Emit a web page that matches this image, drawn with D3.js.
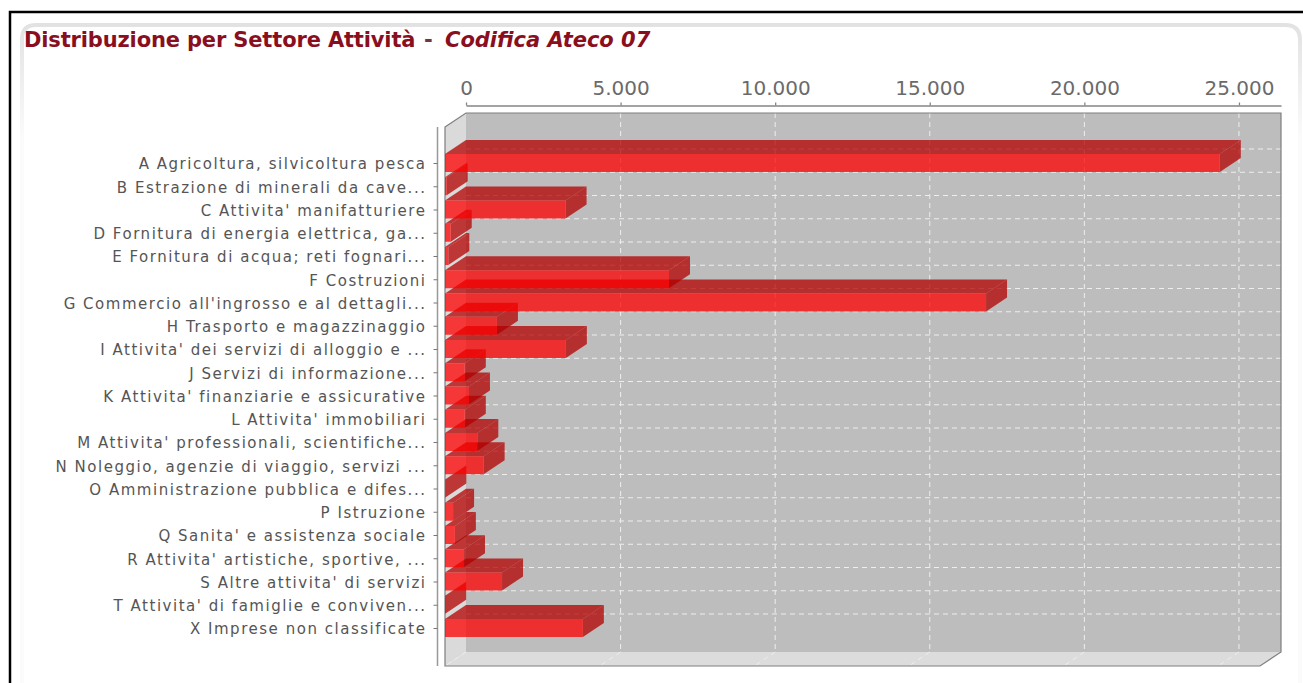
<!DOCTYPE html>
<html>
<head>
<meta charset="utf-8">
<script src="https://cdn.jsdelivr.net/npm/d3@7"></script>
<style>
    html, body { margin: 0; padding: 0; background: #fff; overflow: hidden; }
    svg { display: block; }
    .labels text { font-family: "DejaVu Sans", sans-serif; font-size: 15px; fill: #555; letter-spacing: 1.53px; }
    .values text { font-family: "DejaVu Sans", sans-serif; font-size: 20px; fill: #6a6a6a; }
</style>
</head>
<body>
<svg id="chart" width="1303" height="683"></svg>
<script>
const categories = [
    'A Agricoltura, silvicoltura pesca',
    'B Estrazione di minerali da cave...',
    "C Attivita' manifatturiere",
    'D Fornitura di energia elettrica, ga...',
    'E Fornitura di acqua; reti fognari...',
    'F Costruzioni',
    "G Commercio all'ingrosso e al dettagli...",
    'H Trasporto e magazzinaggio',
    "I Attivita' dei servizi di alloggio e ...",
    'J Servizi di informazione...',
    "K Attivita' finanziarie e assicurative",
    "L Attivita' immobiliari",
    "M Attivita' professionali, scientifiche...",
    'N Noleggio, agenzie di viaggio, servizi ...',
    'O Amministrazione pubblica e difes...',
    'P Istruzione',
    "Q Sanita' e assistenza sociale",
    "R Attivita' artistiche, sportive, ...",
    "S Altre attivita' di servizi",
    "T Attivita' di famiglie e conviven...",
    'X Imprese non classificate'
];
const imprese = [25060, 55, 3900, 185, 107, 7245, 17500, 1680, 3910, 640, 775, 640, 1045, 1250, 10, 260, 320, 615, 1845, 5, 4460];
const valueTicks = [0, 5000, 10000, 15000, 20000, 25000];
const axisMax = 26360;

const wall = { left: 466, right: 1281, top: 113, bottom: 652 };
const depth = { x: 21, y: 14 };
const barHeight = 18;

const svg = d3.select('#chart');
const it = d3.formatLocale({ decimal: ',', thousands: '.', grouping: [3], currency: ['€', ''] });

const x = d3.scaleLinear().domain([0, axisMax]).range([wall.left, wall.right]);
const y = d3.scalePoint().domain(categories).range([163, 628]);

const path = pts => d3.line()(pts) + 'Z';

// page frame and panel
svg.append('path')
    .attr('d', 'M1303,12H10V683')
    .attr('fill', 'none')
    .attr('stroke', '#000')
    .attr('stroke-width', 2.5);

const fade = svg.append('defs').append('linearGradient')
    .attr('id', 'panelFade')
    .attr('gradientUnits', 'userSpaceOnUse')
    .attr('x1', 0).attr('y1', 25).attr('x2', 0).attr('y2', 140);
fade.append('stop').attr('offset', '0').attr('stop-color', '#e2e2e2');
fade.append('stop').attr('offset', '1').attr('stop-color', '#fbfbfb');

svg.append('path')
    .attr('d', 'M22,683V39Q22,25 36,25H1285Q1300,25 1300,40V683')
    .attr('fill', 'none')
    .attr('stroke', 'url(#panelFade)')
    .attr('stroke-width', 4);

// title
const title = svg.append('text')
    .attr('y', 47)
    .attr('font-family', 'DejaVu Sans, sans-serif')
    .attr('font-size', 21)
    .attr('font-weight', 'bold')
    .attr('fill', '#8a0f1e');
title.append('tspan').attr('x', 24).attr('letter-spacing', -0.15).text('Distribuzione per Settore Attività');
title.append('tspan').attr('x', 424).attr('fill', '#6b3a40').text('-');
title.append('tspan').attr('x', 445).attr('font-style', 'italic').text('Codifica Ateco 07');

// 3d box
svg.append('path')
    .attr('d', path([[wall.left, wall.top], [wall.right, wall.top], [wall.right, wall.bottom], [wall.left, wall.bottom]]))
    .attr('fill', '#bdbdbd');
svg.append('path')
    .attr('d', path([[wall.left - depth.x, wall.top + depth.y], [wall.left, wall.top], [wall.left, wall.bottom], [wall.left - depth.x, wall.bottom + depth.y]]))
    .attr('fill', '#dadada');
svg.append('path')
    .attr('d', path([[wall.left - depth.x, wall.bottom + depth.y], [wall.left, wall.bottom], [wall.right, wall.bottom], [wall.right - depth.x, wall.bottom + depth.y]]))
    .attr('fill', '#dcdcdc');

// grid
const grid = svg.append('g')
    .attr('fill', 'none')
    .attr('stroke', '#eee')
    .attr('stroke-width', 1)
    .attr('stroke-dasharray', '5,4');

grid.selectAll('line.v')
    .data(valueTicks.slice(1))
    .join('line')
    .attr('class', 'v')
    .attr('x1', d => x(d)).attr('x2', d => x(d))
    .attr('y1', wall.top).attr('y2', wall.bottom);

grid.selectAll('line.h')
    .data(categories)
    .join('line')
    .attr('class', 'h')
    .attr('x1', wall.left).attr('x2', wall.right)
    .attr('y1', d => y(d) - depth.y).attr('y2', d => y(d) - depth.y);

grid.selectAll('line.floor')
    .data(valueTicks)
    .join('line')
    .attr('class', 'floor')
    .attr('x1', d => x(d)).attr('y1', wall.bottom)
    .attr('x2', d => x(d) - depth.x).attr('y2', wall.bottom + depth.y);

// box outline
svg.append('path')
    .attr('d', `M${wall.left - depth.x},${wall.top + depth.y}L${wall.left},${wall.top}H${wall.right}V${wall.bottom}L${wall.right - depth.x},${wall.bottom + depth.y}H${wall.left - depth.x}Z`)
    .attr('fill', 'none')
    .attr('stroke', '#7f7f7f')
    .attr('stroke-width', 1.2);

// bars, bottom one first so upper fronts sit over lower tops
const rows = categories.map((name, i) => ({ name, value: imprese[i] })).reverse();

const bars = svg.append('g')
    .selectAll('g')
    .data(rows)
    .join('g')
    .attr('fill-opacity', 0.75);

function barCorners(d) {
    const x0 = x(0) - depth.x;
    const x1 = x(d.value) - depth.x;
    const y0 = y(d.name) - barHeight / 2;
    const y1 = y(d.name) + barHeight / 2;
    return { x0, x1, y0, y1 };
}

bars.append('path')
    .attr('fill', '#b30000')
    .attr('d', d => {
        const { x0, x1, y0 } = barCorners(d);
        return path([[x0, y0], [x0 + depth.x, y0 - depth.y], [x1 + depth.x, y0 - depth.y], [x1, y0]]);
    });

bars.append('path')
    .attr('fill', '#b30000')
    .attr('d', d => {
        const { x1, y0, y1 } = barCorners(d);
        return path([[x1, y0], [x1 + depth.x, y0 - depth.y], [x1 + depth.x, y1 - depth.y], [x1, y1]]);
    });

bars.append('path')
    .attr('fill', '#ff0000')
    .attr('d', d => {
        const { x0, x1, y0, y1 } = barCorners(d);
        return path([[x0, y0], [x1, y0], [x1, y1], [x0, y1]]);
    });

// axes
const topAxis = d3.axisTop(x)
    .tickValues(valueTicks)
    .tickFormat(it.format(',d'))
    .tickSize(3)
    .tickSizeOuter(0)
    .tickPadding(8);

const topG = svg.append('g')
    .attr('class', 'values')
    .attr('transform', 'translate(0,105.5)')
    .call(topAxis);
topG.selectAll('path, line').attr('stroke', '#858585').attr('stroke-width', 1.3);

const leftAxis = d3.axisLeft(y)
    .tickSize(4)
    .tickSizeOuter(0)
    .tickPadding(7);

const leftG = svg.append('g')
    .attr('class', 'labels')
    .attr('transform', 'translate(437.5,0)')
    .call(leftAxis);
leftG.select('.domain')
    .attr('d', 'M0,127V666')
    .attr('stroke', '#999')
    .attr('stroke-width', 1.5);
leftG.selectAll('line').attr('stroke', '#777');
leftG.selectAll('text').attr('y', 1);
</script>
</body>
</html>
